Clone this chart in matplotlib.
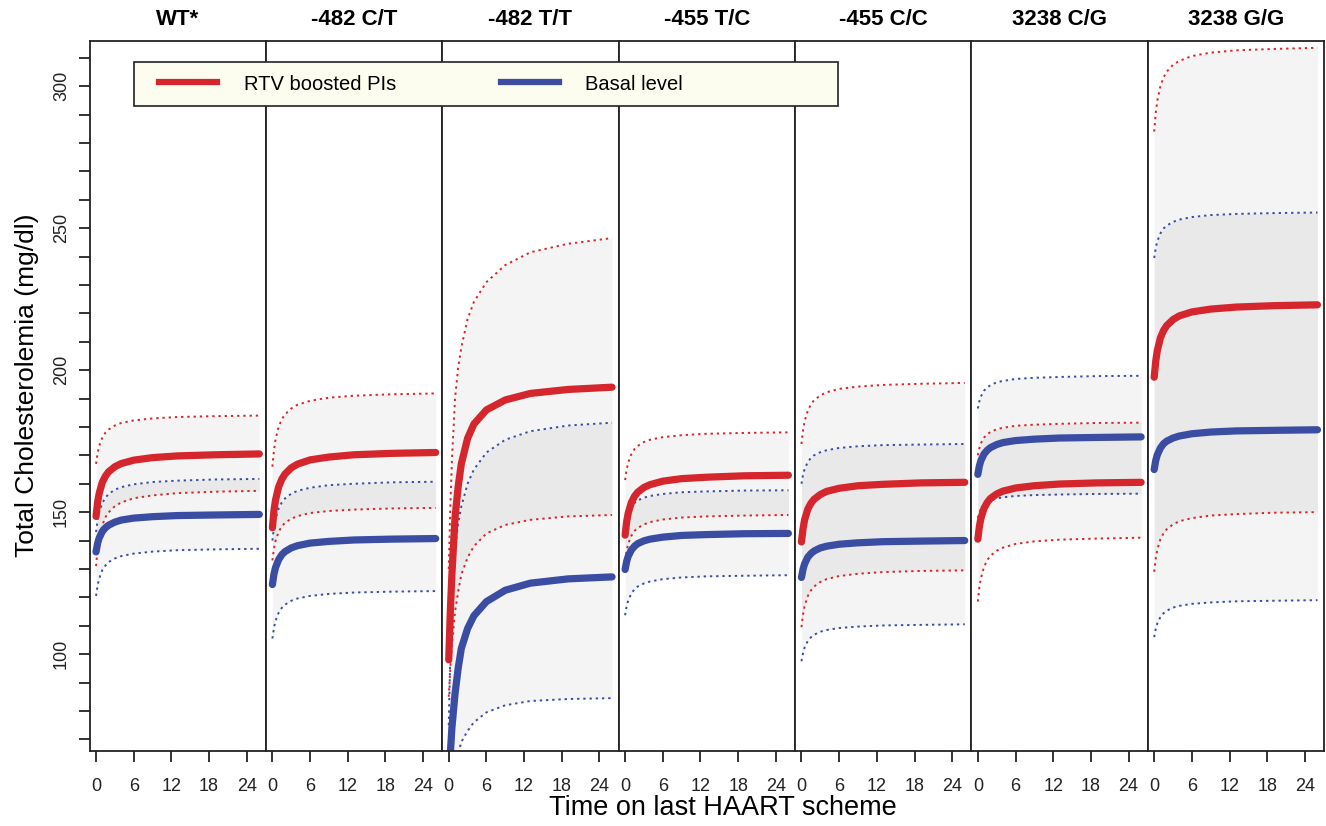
import matplotlib
matplotlib.use("Agg")
import matplotlib.pyplot as plt
from matplotlib.lines import Line2D
from matplotlib.patches import Rectangle
from matplotlib.ticker import MultipleLocator

plt.rcParams['font.family'] = ['Liberation Sans', 'DejaVu Sans']

# genotype panels
panels = ["WT*", "-482 C/T", "-482 T/T", "-455 T/C", "-455 C/C", "3238 C/G", "3238 G/G"]

# months on the last HAART scheme where the curves were read
months = [0, 0.25, 0.5, 1, 1.5, 2, 3, 4, 6, 9, 13, 19, 26]

# RTV boosted PIs: fitted mean and upper / lower limits (mg/dl)
rtv_mean = [
    [148.5, 153.5, 156.6, 160.5, 162.7, 164.2, 166.0, 167.1, 168.3, 169.2, 169.8, 170.2, 170.5],
    [144.5, 150.5, 154.3, 158.9, 161.6, 163.4, 165.6, 166.9, 168.4, 169.4, 170.2, 170.7, 171.0],
    [98.0, 115.0, 128.0, 148.0, 159.0, 167.0, 176.0, 181.0, 186.0, 189.5, 191.8, 193.2, 194.0],
    [141.9, 146.7, 149.7, 153.4, 155.6, 157.0, 158.7, 159.7, 160.9, 161.8, 162.3, 162.8, 163.0],
    [139.5, 144.2, 147.3, 151.0, 153.1, 154.5, 156.2, 157.3, 158.4, 159.3, 159.8, 160.3, 160.5],
    [140.5, 145.0, 147.9, 151.4, 153.4, 154.8, 156.4, 157.4, 158.5, 159.3, 159.9, 160.3, 160.5],
    [197.5, 203.2, 206.9, 211.4, 214.0, 215.7, 217.8, 219.1, 220.5, 221.5, 222.2, 222.7, 223.0],
]
rtv_upper = [
    [167.0, 170.8, 173.3, 176.3, 178.0, 179.1, 180.5, 181.4, 182.3, 183.0, 183.5, 183.8, 184.0],
    [166.0, 171.8, 175.6, 180.1, 182.7, 184.4, 186.5, 187.8, 189.2, 190.3, 191.0, 191.5, 191.8],
    [130.0, 152.0, 168.0, 190.0, 201.0, 208.0, 218.0, 224.0, 231.0, 237.0, 241.5, 244.5, 246.5],
    [161.3, 165.1, 167.5, 170.5, 172.2, 173.3, 174.7, 175.5, 176.4, 177.1, 177.6, 177.9, 178.1],
    [174.0, 178.8, 182.0, 185.7, 187.9, 189.4, 191.1, 192.2, 193.4, 194.2, 194.8, 195.2, 195.5],
    [170.0, 172.6, 174.3, 176.3, 177.4, 178.2, 179.2, 179.7, 180.4, 180.8, 181.1, 181.4, 181.5],
    [284.0, 290.6, 294.9, 300.1, 303.1, 305.1, 307.5, 308.9, 310.6, 311.8, 312.6, 313.1, 313.5],
]
rtv_lower = [
    [131.0, 137.0, 140.8, 145.4, 148.2, 149.9, 152.1, 153.4, 154.9, 155.9, 156.7, 157.2, 157.5],
    [133.0, 137.2, 139.9, 143.1, 145.0, 146.2, 147.7, 148.6, 149.7, 150.4, 150.9, 151.3, 151.5],
    [85.0, 95.0, 103.0, 115.0, 122.0, 128.0, 134.0, 138.0, 142.5, 145.5, 147.3, 148.5, 149.0],
    [133.0, 136.6, 138.9, 141.7, 143.4, 144.4, 145.7, 146.5, 147.4, 148.1, 148.5, 148.8, 149.0],
    [109.5, 114.0, 116.9, 120.4, 122.4, 123.8, 125.4, 126.4, 127.5, 128.3, 128.9, 129.3, 129.5],
    [118.5, 123.6, 126.8, 130.8, 133.1, 134.6, 136.4, 137.5, 138.8, 139.7, 140.3, 140.7, 141.0],
    [129.0, 133.7, 136.8, 140.5, 142.6, 144.0, 145.7, 146.8, 147.9, 148.8, 149.3, 149.8, 150.0],
]

# basal level: fitted mean and upper / lower limits (mg/dl)
basal_mean = [
    [136.0, 139.0, 140.9, 143.2, 144.5, 145.4, 146.5, 147.2, 147.9, 148.4, 148.8, 149.0, 149.2],
    [124.5, 128.2, 130.5, 133.3, 135.0, 136.1, 137.4, 138.2, 139.1, 139.7, 140.2, 140.5, 140.7],
    [55.0, 65.0, 74.0, 86.0, 95.0, 102.0, 109.0, 113.5, 118.5, 122.5, 125.0, 126.5, 127.2],
    [129.8, 132.7, 134.5, 136.7, 138.0, 138.9, 139.9, 140.5, 141.2, 141.8, 142.1, 142.4, 142.5],
    [127.0, 129.9, 131.8, 134.1, 135.4, 136.3, 137.4, 138.0, 138.7, 139.2, 139.6, 139.8, 140.0],
    [163.3, 166.3, 168.2, 170.5, 171.8, 172.7, 173.8, 174.5, 175.2, 175.7, 176.1, 176.3, 176.5],
    [165.0, 168.2, 170.2, 172.6, 174.1, 175.0, 176.1, 176.8, 177.6, 178.2, 178.6, 178.8, 179.0],
]
basal_upper = [
    [143.0, 147.2, 149.9, 153.2, 155.1, 156.4, 157.9, 158.8, 159.8, 160.6, 161.1, 161.5, 161.7],
    [140.0, 144.7, 147.7, 151.3, 153.4, 154.8, 156.5, 157.5, 158.6, 159.5, 160.0, 160.5, 160.7],
    [75.0, 100.0, 118.0, 137.0, 146.0, 152.0, 160.0, 165.0, 171.0, 175.5, 178.5, 180.5, 181.5],
    [145.0, 147.9, 149.7, 151.9, 153.2, 154.1, 155.1, 155.7, 156.4, 157.0, 157.3, 157.6, 157.7],
    [160.0, 163.2, 165.2, 167.6, 169.1, 170.0, 171.1, 171.8, 172.6, 173.2, 173.6, 173.8, 174.0],
    [186.5, 189.1, 190.8, 192.8, 193.9, 194.7, 195.7, 196.2, 196.9, 197.3, 197.6, 197.9, 198.0],
    [239.5, 243.1, 245.4, 248.2, 249.9, 250.9, 252.2, 253.0, 253.9, 254.6, 255.0, 255.3, 255.5],
]
basal_lower = [
    [120.5, 124.2, 126.6, 129.6, 131.2, 132.4, 133.7, 134.5, 135.4, 136.1, 136.6, 136.9, 137.1],
    [105.5, 109.3, 111.7, 114.6, 116.3, 117.4, 118.8, 119.6, 120.5, 121.2, 121.7, 122.0, 122.2],
    [35.0, 43.0, 50.0, 60.0, 65.0, 69.0, 73.0, 76.0, 79.5, 82.0, 83.5, 84.2, 84.5],
    [113.7, 116.9, 118.9, 121.4, 122.8, 123.8, 124.9, 125.6, 126.4, 127.0, 127.4, 127.6, 127.8],
    [97.5, 100.4, 102.3, 104.6, 105.9, 106.8, 107.9, 108.5, 109.2, 109.7, 110.1, 110.3, 110.5],
    [148.0, 149.9, 151.2, 152.6, 153.5, 154.1, 154.8, 155.2, 155.7, 156.0, 156.2, 156.4, 156.5],
    [106.0, 108.9, 110.8, 113.1, 114.4, 115.3, 116.4, 117.0, 117.7, 118.2, 118.6, 118.8, 119.0],
]

RED = '#d4262c'
BLUE = '#3a4da3'
FRAME = '#222222'
DOTS = (0, (1.2, 2.0))

W, H = 1326, 826
fig, axes = plt.subplots(1, 7, figsize=(W / 100, H / 100), dpi=100, sharey=True)
fig.subplots_adjust(left=89.5 / W, right=1324 / W, bottom=1 - 750.7 / H,
                    top=1 - 40.7 / H, wspace=0)

for i, ax in enumerate(axes):
    # confidence bands, overlap gets darker
    ax.fill_between(months, rtv_lower[i], rtv_upper[i], color='black', alpha=0.045, lw=0)
    ax.fill_between(months, basal_lower[i], basal_upper[i], color='black', alpha=0.045, lw=0)
    # limits
    for y, c in ((rtv_upper[i], RED), (rtv_lower[i], RED),
                 (basal_upper[i], BLUE), (basal_lower[i], BLUE)):
        ax.plot(months, y, color=c, lw=1.4, linestyle=DOTS)
    # fitted curves
    ax.plot(months, basal_mean[i], color=BLUE, lw=5.2, solid_capstyle='round')
    ax.plot(months, rtv_mean[i], color=RED, lw=5.2, solid_capstyle='round')

    ax.set_xlim(-1.04, 27.04)
    ax.set_xticks([0, 6, 12, 18, 24])
    ax.tick_params(axis='x', length=8, width=1.3, pad=12, labelsize=13,
                   color=FRAME, labelcolor='#222222')
    ax.set_title(panels[i], fontsize=16, fontweight='bold', pad=11)
    for s in ax.spines.values():
        s.set_color(FRAME)
        s.set_linewidth(1.3)
    if i > 0:
        ax.tick_params(axis='y', which='both', left=False)

ax0 = axes[0]
ax0.set_ylim(66, 316)
ax0.yaxis.set_major_locator(MultipleLocator(50))
ax0.yaxis.set_minor_locator(MultipleLocator(10))
ax0.tick_params(axis='y', which='both', length=8, width=1.3, color=FRAME)
ax0.tick_params(axis='y', which='major', pad=6, labelsize=13, labelcolor='#222222')
for lab in ax0.get_yticklabels():
    lab.set_rotation(90)
    lab.set_va('center')
    lab.set_ha('right')

fig.text(27 / W, 1 - 385 / H, "Total Cholesterolemia (mg/dl)", rotation=90,
         ha='center', va='center', fontsize=19)
fig.text(723 / W, 1 - 808 / H, "Time on last HAART scheme",
         ha='center', va='center', fontsize=19.5)

# legend box spanning the first panels
fig.patches.append(Rectangle((134 / W, 1 - 105.5 / H), (838 - 134) / W, 43.5 / H,
                             transform=fig.transFigure, facecolor='#fdfdef',
                             edgecolor=FRAME, lw=1.2, zorder=3))
handles = [Line2D([], [], color=RED, lw=4.5), Line2D([], [], color=BLUE, lw=4.5)]
fig.legend(handles, ["RTV boosted PIs", "Basal level"], loc='center left',
           bbox_to_anchor=(159 / W, 1 - 84 / H), ncol=2, frameon=False,
           fontsize=14.5, handlelength=2.9, handletextpad=1.3, columnspacing=5.2,
           borderpad=0, borderaxespad=0)

fig.savefig("out.png", dpi=100)
